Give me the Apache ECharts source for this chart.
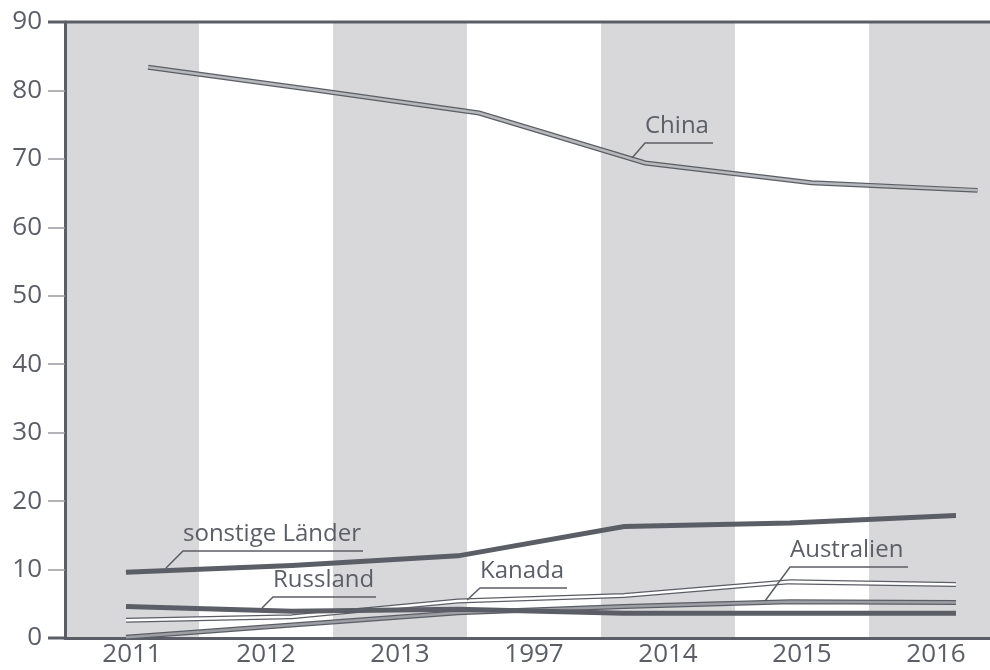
<!DOCTYPE html>
<html>
<head>
<meta charset="utf-8">
<script src="https://cdn.jsdelivr.net/npm/echarts@6/dist/echarts.min.js"></script>
<style>
  html, body { margin: 0; padding: 0; background: #fff; overflow: hidden; }
  #chart { width: 1003px; height: 670px; }
</style>
</head>
<body>
<div id="chart"></div>
<script>
// tick labels on the category axis (as printed in the source)
const years = ['2011', '2012', '2013', '1997', '2014', '2015', '2016'];

// position of each sample on the hidden value axis (0..7, one unit per band)
const xChina = [0.62, 1.855, 3.09, 4.33, 5.57, 6.81];
const xOther = [0.455, 1.694, 2.933, 4.172, 5.41, 6.649];

// values
const china = [83.4, 80.1, 76.7, 69.4, 66.5, 65.4];
const sonstige = [9.6, 10.6, 12.0, 16.3, 16.8, 17.9];
const russland = [4.6, 3.9, 4.2, 3.6, 3.6, 3.6];
const kanada = [2.6, 3.1, 5.4, 6.2, 8.2, 7.8];
const australien = [0.1, 1.9, 3.7, 4.6, 5.3, 5.2];

const dark = '#5b5e66';

const zip = (xs, ys) => xs.map((x, i) => [x, ys[i]]);

function line(name, xs, ys, color, width, z) {
  return {
    name: name,
    type: 'line',
    xAxisIndex: 1,
    data: zip(xs, ys),
    symbol: 'none',
    silent: true,
    z: z,
    lineStyle: { color: color, width: width, cap: 'butt', join: 'miter' }
  };
}

const chart = echarts.init(document.getElementById('chart'));

// annotation: text with underline and leader line
function note(text, tx, ty, lineEnd, len) {
  return [
    {
      type: 'text', left: tx, top: ty, z: 50,
      style: { text: text, fill: dark, font: '24px "Open Sans"' }
    },
    {
      type: 'polyline', z: 50,
      shape: { points: [lineEnd, [tx, ty + 29], [tx + len, ty + 29]] },
      style: { stroke: dark, lineWidth: 1.5, fill: null }
    }
  ];
}

chart.setOption({
  animation: false,
  grid: { left: 65, top: 22, right: 0, bottom: 32 },
  xAxis: [
    {
      type: 'category',
      data: years,
      boundaryGap: true,
      axisLine: { show: true, lineStyle: { color: dark, width: 3 } },
      axisTick: { show: false },
      axisLabel: { color: dark, fontSize: 26, fontFamily: 'Open Sans', margin: 4 },
      splitLine: { show: false },
      splitArea: { show: true, areaStyle: { color: ['#d8d8da', '#ffffff'] } }
    },
    { type: 'value', min: 0, max: 7, show: false }
  ],
  yAxis: {
    type: 'value',
    min: 0, max: 90, interval: 10,
    axisLine: { show: true, lineStyle: { color: dark, width: 3 } },
    axisTick: { show: true, length: 17, lineStyle: { color: '#9a9ca1', width: 1.5 } },
    axisLabel: { color: dark, fontSize: 26, fontFamily: 'Open Sans', margin: 23 },
    splitLine: { show: true, lineStyle: { color: '#9a9ca1', width: 1.5, type: [6, 5] } }
  },
  graphic: [
    { type: 'line', z: 40, shape: { x1: 48, y1: 22, x2: 1003, y2: 22 }, style: { stroke: dark, lineWidth: 3 } },
    { type: 'line', z: 40, shape: { x1: 48, y1: 638, x2: 65, y2: 638 }, style: { stroke: dark, lineWidth: 3 } }
  ]
    .concat(note('China', 645, 114, [632, 158], 68))
    .concat(note('sonstige Länder', 183, 522, [166, 568], 180))
    .concat(note('Russland', 273, 568, [262, 608], 103))
    .concat(note('Kanada', 480, 559, [467, 600], 87))
    .concat(note('Australien', 790, 538, [765, 601], 118)),
  series: [
    line('Australien-o', xOther, australien, dark, 5, 3),
    line('Australien', xOther, australien, '#9d9fa4', 2.5, 4),
    line('Kanada-o', xOther, kanada, dark, 5, 5),
    line('Kanada', xOther, kanada, '#ffffff', 2.5, 6),
    line('Russland', xOther, russland, dark, 5, 7),
    line('sonstige Länder', xOther, sonstige, dark, 5, 8),
    line('China-o', xChina, china, dark, 5, 9),
    line('China', xChina, china, '#b7b8bc', 2.5, 10)
  ]
});
</script>
</body>
</html>
